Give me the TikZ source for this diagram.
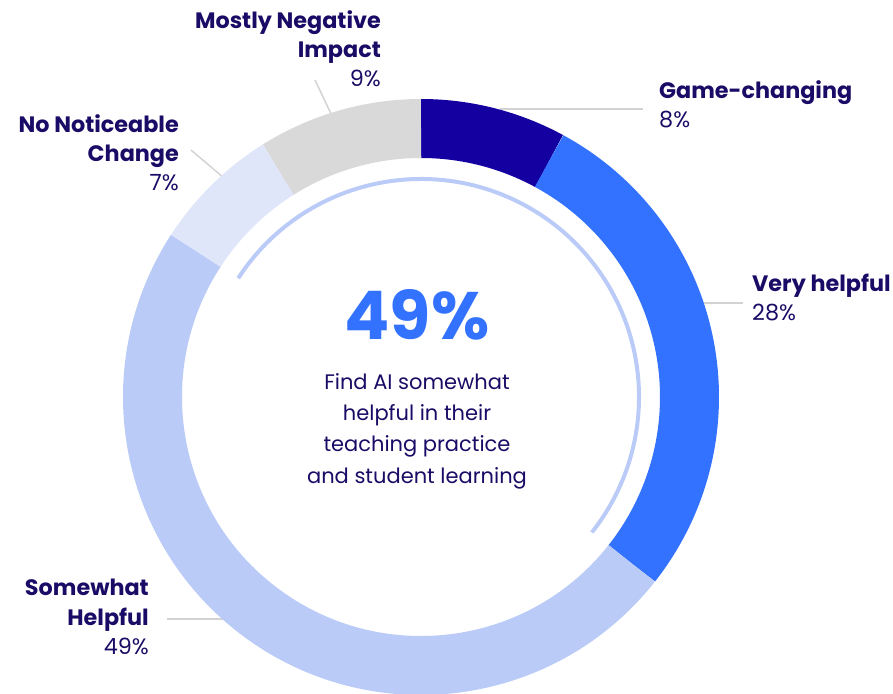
\documentclass[tikz,border=0pt]{standalone}
\usepackage{fontspec}
\setmainfont{Poppins}
\usetikzlibrary{positioning}
\definecolor{navytext}{HTML}{1A0C66}
\definecolor{gamec}{HTML}{1400A0}
\definecolor{veryc}{HTML}{3372FF}
\definecolor{somec}{HTML}{BBCBF8}
\definecolor{noc}{HTML}{DFE6FA}
\definecolor{negc}{HTML}{D9D9D9}
\definecolor{leadc}{HTML}{D3D3D3}
\tikzstyle{segment} = [
	line width=59pt,
	line cap=butt
]
\tikzstyle{label} = [
	inner sep=0pt,
	text=navytext,
	font=\fontsize{22.3}{29.3}\selectfont
]
\tikzstyle{leader} = [draw=leadc, line width=1.5pt]

\begin{document}
\begin{tikzpicture}[x=1pt, y=1pt]
		\useasboundingbox (0,0) rectangle (893,-693);
		\clip (0,0) rectangle (893,-693);

		\coordinate (ctr) at (421,-397);

		% leader lines, under the ring
		\coordinate (game-a) at (500,-109);
		\coordinate (game-b) at (643,-109);
		\coordinate (very-a) at (700,-303);
		\coordinate (very-b) at (743,-303);
		\coordinate (some-a) at (240,-619);
		\coordinate (some-b) at (167,-619);
		\coordinate (neg-a) at (333,-118);
		\coordinate (neg-b) at (315,-80);
		\coordinate (no-a) at (224,-178);
		\coordinate (no-b) at (191,-150);
		\draw [leader] (game-a) -- (game-b);
		\draw [leader] (very-a) -- (very-b);
		\draw [leader] (some-a) -- (some-b);
		\draw [leader] (neg-a) -- (neg-b);
		\draw [leader] (no-a) -- (no-b);

		% ring
		\foreach \a/\b/\c in {90/61.5/gamec, 61.5/-38.3/veryc, -38.3/-213/somec, -213/-237.9/noc, -237.9/-270/negc}
			\draw [segment, \c] (ctr) ++(\a:268.5) arc[start angle=\a, end angle=\b, radius=268.5];

		% thin inner arc
		\draw [somec, line width=4pt] (ctr) ++(147:218) arc[start angle=147, end angle=-38.4, radius=218];

		% centre
		\node (big) [anchor=base, inner sep=0pt, text=veryc, font=\fontsize{67}{67}\selectfont\bfseries] at (417,-339) {49\%};
		\node (desc) [label, anchor=north, align=center, font=\fontsize{21}{31.3}\selectfont, below=33pt of big] {Find AI somewhat\\helpful in their\\teaching practice\\and student learning};

		% labels
		\node (neg) [label, anchor=north east, align=right] at (381,-10) {\textbf{Mostly Negative}\\\textbf{Impact}\\9\%};
		\node (no) [label, anchor=north east, align=right] at (179,-114) {\textbf{No Noticeable}\\\textbf{Change}\\7\%};
		\node (game) [label, anchor=north west, align=left] at (659,-80) {\textbf{Game-changing}\\8\%};
		\node (very) [label, anchor=north west, align=left] at (752,-274) {\textbf{Very helpful}\\28\%};
		\node (some) [label, anchor=north east, align=right] at (149,-579) {\textbf{Somewhat}\\\textbf{Helpful}\\49\%};
	\end{tikzpicture}
\end{document}
